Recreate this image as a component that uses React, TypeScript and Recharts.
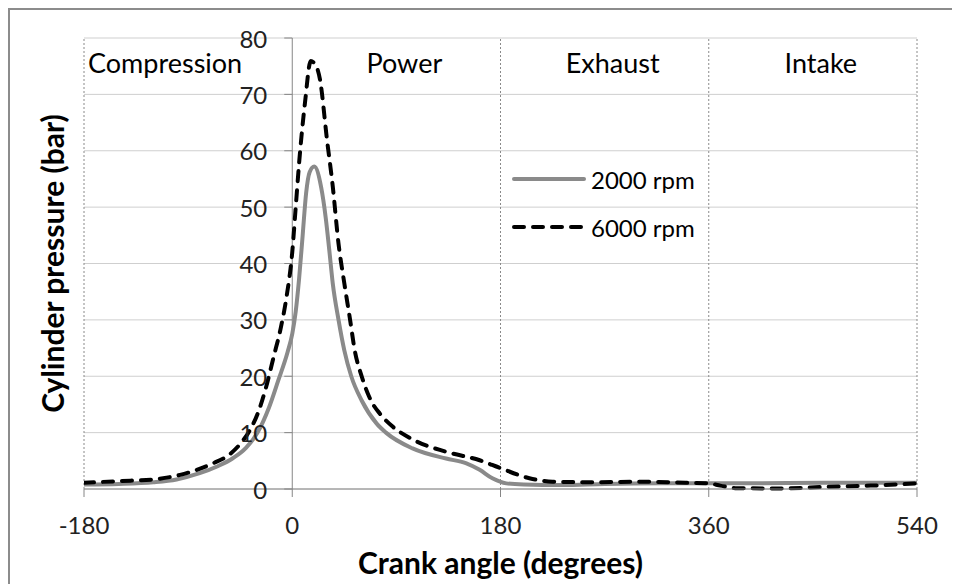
import {
  LineChart,
  Line,
  XAxis,
  YAxis,
  CartesianGrid,
  ReferenceLine,
  ReferenceArea,
  Legend,
  Label,
} from "recharts"

// crank angle (deg) / cylinder pressure (bar)
const angles2000 = [-180, -150, -120, -100, -80, -65, -51, -40, -30, -20, -12, -4, 0, 3, 6, 9, 12, 15, 19, 25, 29, 32, 35, 40, 45, 51, 60, 73, 81, 104, 133, 150, 162, 173, 185, 200, 233, 270, 320, 360, 400, 460, 540]
const pressure2000 = [0.8, 0.9, 1.2, 1.7, 2.8, 4.0, 5.5, 7.3, 10, 14.5, 19.3, 24.3, 27.5, 31.5, 37.5, 45, 52.5, 56.2, 57.2, 53.5, 48, 42.4, 36.5, 30, 24.6, 20, 15.7, 11.6, 10, 7.2, 5.4, 4.6, 3.4, 1.9, 1.0, 0.8, 0.7, 0.9, 1.0, 1.0, 1.0, 1.1, 1.1]

const angles6000 = [-180, -150, -120, -97, -68, -55, -45, -37, -30, -23, -16, -10, -5, 0, 3, 6, 11, 16, 20, 24, 30, 35, 40, 45, 50, 54, 60, 68, 76, 86, 104, 133, 162, 180, 205, 225, 260, 300, 340, 360, 370, 383, 420, 464, 500, 540]
const pressure6000 = [1.1, 1.4, 1.7, 2.5, 4.6, 6.0, 8.0, 10.3, 13.3, 17.8, 23.5, 28.5, 34, 42, 50, 58, 68.5, 75.9, 75.3, 72.6, 62, 53.7, 43.5, 36.5, 30, 24.6, 20, 15.7, 13.3, 11.2, 8.8, 6.6, 5.1, 3.7, 1.9, 1.3, 1.2, 1.3, 1.1, 1.0, 0.6, 0.15, 0.1, 0.4, 0.6, 1.0]

const seriesNames = ["2000 rpm", "6000 rpm"]
const xTicks = [-180, 0, 180, 360, 540]
const yTicks = [0, 10, 20, 30, 40, 50, 60, 70, 80]
const phaseNames = ["Compression", "Power", "Exhaust", "Intake"]
const phaseStarts = [-180, 0, 180, 360]

const data2000 = angles2000.map((a, i) => ({ angle: a, p: pressure2000[i] }))
const data6000 = angles6000.map((a, i) => ({ angle: a, p: pressure6000[i] }))

const FONT = "Lato, 'DejaVu Sans', sans-serif"
const CHART_W = 952
const CHART_H = 576
const MARGIN = { top: 30, right: 43, bottom: 0, left: 0 }
const Y_AXIS_W = 76
const X_MIN = -180
const X_MAX = 540
const PLOT_LEFT = MARGIN.left + Y_AXIS_W
const PLOT_W = CHART_W - PLOT_LEFT - MARGIN.right
const ZERO_X = PLOT_LEFT + (PLOT_W * (0 - X_MIN)) / (X_MAX - X_MIN)
const AXIS = "#868686"

const seriesColors = ["#8a8a8a", "#000000"]
const seriesDash = [undefined, "10 9"]

function YTick({ y, payload }: any) {
  return (
    <g>
      <line x1={ZERO_X - 8} x2={ZERO_X} y1={y} y2={y} stroke={AXIS} />
      <text
        x={ZERO_X - 25}
        y={y}
        textAnchor="end"
        dominantBaseline="central"
        fontFamily={FONT}
        fontSize={24}
        fill="#222"
      >
        {payload.value}
      </text>
    </g>
  )
}

function XTick({ x, y, payload }: any) {
  return (
    <text
      x={x}
      y={y + 27}
      textAnchor="middle"
      dominantBaseline="central"
      fontFamily={FONT}
      fontSize={24}
      fill="#222"
    >
      {payload.value}
    </text>
  )
}

function PhaseLabel({ viewBox, value, left }: any) {
  const vb = viewBox || {}
  return (
    <text
      x={left ? vb.x + 4 : vb.x + vb.width / 2 + 8}
      y={vb.y + 24}
      textAnchor={left ? "start" : "middle"}
      dominantBaseline="central"
      fontFamily={FONT}
      fontSize={27}
      fill="#000"
    >
      {value}
    </text>
  )
}

function LegendBox() {
  return (
    <div style={{ fontFamily: FONT, fontSize: 24, color: "#000" }}>
      {seriesNames.map((name, i) => (
        <div key={name} style={{ display: "flex", alignItems: "center", height: 48 }}>
          <svg width={78} height={10} style={{ marginRight: 2 }}>
            <line
              x1={3}
              y1={5}
              x2={73}
              y2={5}
              stroke={seriesColors[i]}
              strokeWidth={4}
              strokeDasharray={seriesDash[i]}
              strokeLinecap="round"
            />
          </svg>
          <span>{name}</span>
        </div>
      ))}
    </div>
  )
}

export default function App() {
  return (
    <div style={{ position: "relative", width: 960, height: 600 }}>
      <div
        style={{
          position: "absolute",
          left: 0,
          top: 0,
          width: 960,
          height: 600,
          border: "2px solid #8c8c8c",
          boxSizing: "border-box",
        }}
      />
      <div style={{ position: "absolute", left: 0, top: 0 }}>
        <LineChart width={CHART_W} height={CHART_H} margin={MARGIN}>
          <CartesianGrid vertical={false} stroke="#cfcfcf" />
          {phaseNames.map((name, i) => (
            <ReferenceArea
              key={name}
              x1={phaseStarts[i]}
              x2={phaseStarts[i] + 180}
              y1={0}
              y2={80}
              fill="none"
              stroke="none"
              label={<PhaseLabel value={name} left={i === 0} />}
            />
          ))}
          {[-180, 180, 360, 540].map((v) => (
            <ReferenceLine key={v} x={v} stroke="#8a8a8a" strokeDasharray="2 2" />
          ))}
          <ReferenceLine x={0} stroke={AXIS} />
          <XAxis
            type="number"
            dataKey="angle"
            domain={[X_MIN, X_MAX]}
            ticks={xTicks}
            allowDataOverflow
            height={95}
            stroke={AXIS}
            tickSize={8}
            tickMargin={0}
            tick={<XTick />}
          >
            <Label
              content={({ viewBox }: any) => (
                <text
                  x={viewBox.x + viewBox.width / 2}
                  y={viewBox.y + 73}
                  textAnchor="middle"
                  dominantBaseline="central"
                  fontFamily={FONT}
                  fontWeight="bold"
                  fontSize={30}
                  fill="#000"
                >
                  Crank angle (degrees)
                </text>
              )}
            />
          </XAxis>
          <YAxis
            type="number"
            domain={[0, 80]}
            ticks={yTicks}
            width={Y_AXIS_W}
            axisLine={false}
            tickLine={false}
            tickSize={0}
            tickMargin={0}
            tick={<YTick />}
          >
            <Label
              content={({ viewBox }: any) => {
                const cx = 44
                const cy = viewBox.y + viewBox.height / 2
                return (
                  <text
                    x={cx}
                    y={cy}
                    transform={`rotate(-90 ${cx} ${cy})`}
                    textAnchor="middle"
                    dominantBaseline="central"
                    fontFamily={FONT}
                    fontWeight="bold"
                    fontSize={30}
                    fill="#000"
                  >
                    Cylinder pressure (bar)
                  </text>
                )
              }}
            />
          </YAxis>
          <Legend
            layout="vertical"
            align="center"
            verticalAlign="middle"
            content={<LegendBox />}
            wrapperStyle={{ position: "absolute", left: 503, top: 147, width: "auto" }}
          />
          <Line
            data={data2000}
            dataKey="p"
            name={seriesNames[0]}
            type="monotone"
            stroke={seriesColors[0]}
            strokeWidth={4}
            dot={false}
            activeDot={false}
            isAnimationActive={false}
          />
          <Line
            data={data6000}
            dataKey="p"
            name={seriesNames[1]}
            type="monotone"
            stroke={seriesColors[1]}
            strokeWidth={4}
            strokeDasharray={seriesDash[1]}
            strokeLinecap="round"
            dot={false}
            activeDot={false}
            isAnimationActive={false}
          />
        </LineChart>
      </div>
    </div>
  )
}
